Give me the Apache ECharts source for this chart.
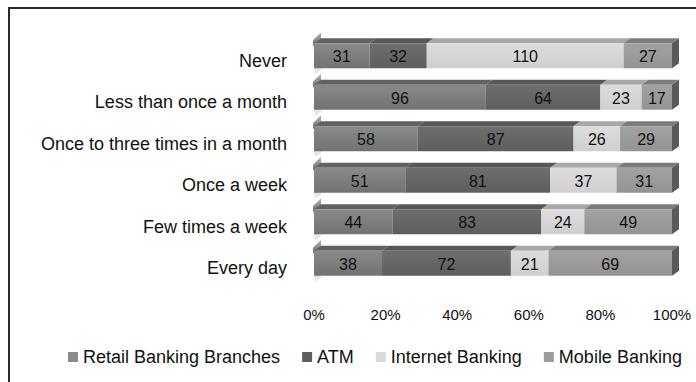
<!DOCTYPE html>
<html>
<head>
<meta charset="utf-8">
<script src="https://cdn.jsdelivr.net/npm/echarts@6/dist/echarts.min.js"></script>
<style>
  html, body { margin: 0; padding: 0; background: #ffffff; }
  #chart { width: 696px; height: 382px; }
</style>
</head>
<body>
<div id="chart"></div>
<script>
// Usage frequency of each banking channel (respondent counts per row)
const categories = [
  'Never',
  'Less than once a month',
  'Once to three times in a month',
  'Once a week',
  'Few times a week',
  'Every day'
];
const retailBranches = [31, 96, 58, 51, 44, 38];
const atm            = [32, 64, 87, 81, 83, 72];
const internetBank   = [110, 23, 26, 37, 24, 21];
const mobileBank     = [27, 17, 29, 31, 49, 69];
const seriesNames = ['Retail Banking Branches', 'ATM', 'Internet Banking', 'Mobile Banking'];
const percentTicks = [0, 20, 40, 60, 80, 100];

const FONT = "'Liberation Sans', Arial, sans-serif";
const seriesValues = [retailBranches, atm, internetBank, mobileBank];

// Shading for the extruded bars: front face gradient, top face, right face
const faces = [
  { front: ['#8a8a8a', '#727272'], top: '#626262', side: '#555555', legend: '#8a8a8a' },
  { front: ['#6e6e6e', '#5e5e5e'], top: '#575757', side: '#4a4a4a', legend: '#5e5e5e' },
  { front: ['#dcdcdc', '#cfcfcf'], top: '#a8a8a8', side: '#8c8c8c', legend: '#d9d9d9' },
  { front: ['#a2a2a2', '#939393'], top: '#7c7c7c', side: '#5a5a5a', legend: '#9c9c9c' }
];

// Row totals so each row is shown as a share of 100%
const rowTotals = categories.map((_, i) =>
  seriesValues.reduce((sum, arr) => sum + arr[i], 0));

function segmentData(k) {
  return categories.map((_, i) => {
    let start = 0;
    for (let j = 0; j < k; j++) start += seriesValues[j][i];
    const end = start + seriesValues[k][i];
    return [start / rowTotals[i] * 100, end / rowTotals[i] * 100, i, seriesValues[k][i]];
  });
}

const DX = 7, DY = 5;

function makeRender(k) {
  const last = k === seriesValues.length - 1;
  const f = faces[k];
  return function (params, api) {
    const cat = api.value(2);
    const p0 = api.coord([api.value(0), cat]);
    const p1 = api.coord([api.value(1), cat]);
    const band = api.size([0, 1])[1];
    const h = band * 0.6;
    const x0 = p0[0], x1 = p1[0];
    const yT = p0[1] - h / 2, yB = p0[1] + h / 2;
    const children = [];

    if (k === 0) {
      // wall edge peeking out at the left of each bar
      children.push({
        type: 'polygon',
        shape: { points: [[x0 - 1, yT + 3], [x0 - 1, yT - 3], [x0 + DX, yT - DY - 6], [x0 + DX, yT - DY]] },
        style: {
          fill: new echarts.graphic.LinearGradient(0, 0, 0, 1, [
            { offset: 0, color: '#b5b5b5' }, { offset: 1, color: '#6a6a6a' }
          ])
        }
      });
      children.push({
        type: 'polygon',
        shape: { points: [[x0, yB], [x0 + DX, yB - DY], [x0 + DX, yB + 2], [x0 + 1, yB + 6]] },
        style: { fill: '#e6e6e6' }
      });
    }

    children.push({
      type: 'polygon',
      shape: { points: [[x0, yT], [x0 + DX, yT - DY], [x1 + DX, yT - DY], [x1, yT]] },
      style: { fill: f.top }
    });
    children.push({
      type: 'rect',
      shape: { x: x0, y: yT, width: x1 - x0, height: h },
      style: {
        fill: new echarts.graphic.LinearGradient(0, 0, 0, 1, [
          { offset: 0, color: f.front[0] }, { offset: 1, color: f.front[1] }
        ])
      }
    });
    if (last) {
      children.push({
        type: 'polygon',
        shape: { points: [[x1, yT], [x1 + DX, yT - DY], [x1 + DX, yB - DY], [x1, yB]] },
        style: { fill: f.side }
      });
    }
    children.push({
      type: 'text',
      style: {
        text: String(api.value(3)),
        x: (x0 + x1) / 2,
        y: p0[1] + 1,
        align: 'center',
        verticalAlign: 'middle',
        fill: '#111111',
        font: '16px ' + FONT
      }
    });
    return { type: 'group', children };
  };
}

const chart = echarts.init(document.getElementById('chart'), null, { renderer: 'svg' });

chart.setOption({
  animation: false,
  backgroundColor: '#ffffff',
  grid: { left: 314, right: 24, top: 35, bottom: 98 },
  xAxis: {
    type: 'value',
    min: percentTicks[0],
    max: percentTicks[percentTicks.length - 1],
    interval: percentTicks[1] - percentTicks[0],
    axisLine: { show: false },
    axisTick: { show: false },
    splitLine: { show: false },
    axisLabel: {
      formatter: '{value}%',
      margin: 23,
      color: '#111111',
      fontSize: 15,
      fontFamily: FONT
    }
  },
  yAxis: {
    type: 'category',
    data: categories,
    inverse: true,
    axisLine: { show: false },
    axisTick: { show: false },
    axisLabel: {
      margin: 27,
      formatter: v => '{c|' + v + '}',
      rich: {
        c: { fontSize: 18, fontFamily: FONT, color: '#111111', padding: [10, 0, 0, 0] }
      }
    }
  },
  legend: {
    data: seriesNames,
    left: 68,
    right: 0,
    top: 348,
    padding: 0,
    icon: 'rect',
    itemWidth: 10,
    itemHeight: 10,
    itemGap: 22,
    textStyle: { fontSize: 18, fontFamily: FONT, color: '#111111' }
  },
  graphic: [
    { type: 'line', shape: { x1: 9, y1: 8, x2: 696, y2: 8 }, style: { stroke: '#2a2a2a', lineWidth: 2 } },
    { type: 'line', shape: { x1: 9, y1: 7, x2: 9, y2: 382 }, style: { stroke: '#2a2a2a', lineWidth: 2 } }
  ],
  series: seriesNames.map((name, k) => ({
    name,
    type: 'custom',
    renderItem: makeRender(k),
    encode: { x: [0, 1], y: 2 },
    itemStyle: { color: faces[k].legend },
    data: segmentData(k)
  }))
});
</script>
</body>
</html>
